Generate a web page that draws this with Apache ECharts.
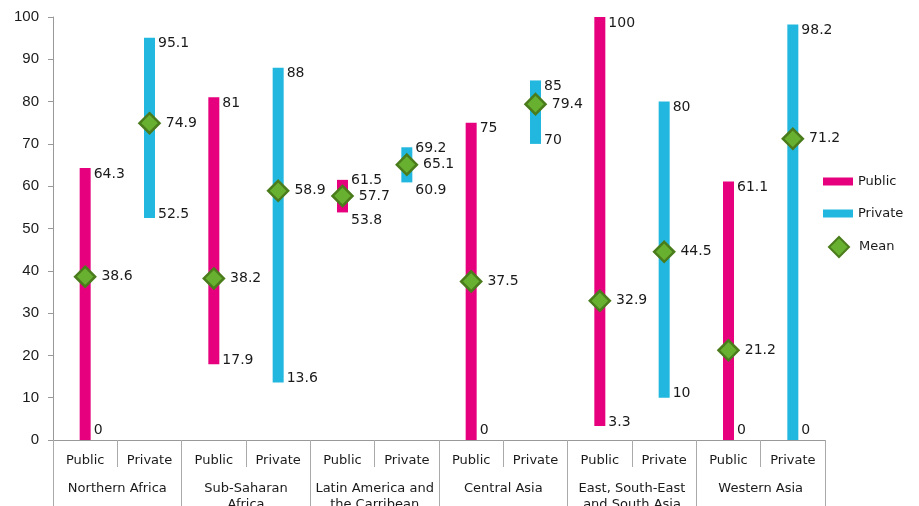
<!DOCTYPE html>
<html>
<head>
<meta charset="utf-8">
<script src="https://cdn.jsdelivr.net/npm/echarts@6/dist/echarts.min.js"></script>
<style>
  html, body { margin: 0; padding: 0; background: #fff; overflow: hidden; }
  #chart { width: 919px; height: 506px; }
</style>
</head>
<body>
<div id="chart"></div>
<script>
// data
var regions = ['Northern Africa', 'Sub-Saharan\nAfrica', 'Latin America and\nthe Carribean', 'Central Asia', 'East, South-East\nand South Asia', 'Western Asia'];
var sectors = ['Public', 'Private'];
var publicMin = [0, 17.9, 53.8, 0, 3.3, 0];
var publicMax = [64.3, 81, 61.5, 75, 100, 61.1];
var publicMean = [38.6, 38.2, 57.7, 37.5, 32.9, 21.2];
var privateMin = [52.5, 13.6, 60.9, 70, 10, 0];
var privateMax = [95.1, 88, 69.2, 85, 80, 98.2];
var privateMean = [74.9, 58.9, 65.1, 79.4, 44.5, 71.2];
var yTicks = [0, 10, 20, 30, 40, 50, 60, 70, 80, 90, 100];

var font = 'DejaVu Sans';
var textColor = '#1a1a1a';

// sub categories: Public, Private for each region
var subCats = [];
regions.forEach(function () { subCats.push(sectors[0], sectors[1]); });

var pubData = publicMin.map(function (v, i) { return [i * 2, v, publicMax[i]]; });
var privData = privateMin.map(function (v, i) { return [i * 2 + 1, v, privateMax[i]]; });
var meanData = [];
regions.forEach(function (r, i) {
    meanData.push([i * 2, publicMean[i]]);
    meanData.push([i * 2 + 1, privateMean[i]]);
});

function rangeBar(color) {
    return function (params, api) {
        var x = api.value(0);
        var lo = api.value(1), hi = api.value(2);
        var top = api.coord([x, hi]);
        var bot = api.coord([x, lo]);
        var w = 11;
        var short = (hi - lo) < 12;
        var topY = short ? top[1] + 1 : top[1] + 6;
        var lowY = lo === 0 ? bot[1] - 10 : (short ? bot[1] + 8 : bot[1] - 4);
        return {
            type: 'group',
            children: [
                { type: 'rect', shape: { x: top[0] - w / 2, y: top[1], width: w, height: bot[1] - top[1] },
                  style: { fill: color } },
                { type: 'text', x: top[0] + w / 2 + 3, y: topY,
                  style: { text: String(hi), fill: textColor, font: '14px ' + font, verticalAlign: 'middle' } },
                { type: 'text', x: bot[0] + w / 2 + 3, y: lowY,
                  style: { text: String(lo), fill: textColor, font: '14px ' + font, verticalAlign: 'middle' } }
            ]
        };
    };
}

var myChart = echarts.init(document.getElementById('chart'));

var option = {
    animation: false,
    backgroundColor: '#fff',
    textStyle: { fontFamily: font },
    grid: { left: 53, right: 94, top: 17, bottom: 66, containLabel: false, outerBoundsMode: 'none' },
    legend: [
        {
            orient: 'vertical', left: 823, top: 175, padding: 0, itemWidth: 30, itemHeight: 8, itemGap: 19,
            textStyle: { fontFamily: font, fontSize: 13, color: textColor },
            data: [{ name: 'Public', icon: 'rect' }, { name: 'Private', icon: 'rect' }]
        },
        {
            orient: 'vertical', left: 828, top: 236, padding: 0, itemWidth: 20, itemHeight: 20,
            textStyle: { fontFamily: font, fontSize: 13, color: textColor, padding: [0, 0, 0, 5] },
            data: [{ name: 'Mean', icon: 'diamond' }]
        }
    ],
    xAxis: [
        {
            type: 'category', data: subCats, position: 'bottom',
            axisLine: { show: true, lineStyle: { color: '#999' } },
            axisTick: { show: true, length: 27, interval: 0, lineStyle: { color: '#aaa' } },
            axisLabel: { margin: 14, fontFamily: font, fontSize: 13, color: textColor, interval: 0 }
        },
        {
            type: 'category', data: regions, position: 'bottom',
            axisLine: { show: false },
            axisTick: { show: true, length: 70, interval: 0, lineStyle: { color: '#aaa' } },
            axisLabel: { margin: 41, fontFamily: font, fontSize: 13, color: textColor, interval: 0, lineHeight: 16 }
        }
    ],
    yAxis: {
        type: 'value', min: 0, max: 100, interval: 10,
        axisLine: { show: true, lineStyle: { color: '#999' } },
        axisTick: { show: true, length: 5, lineStyle: { color: '#999' } },
        splitLine: { show: false },
        axisLabel: {
            margin: 14, fontFamily: 'Liberation Sans', fontSize: 15, color: textColor,
            formatter: function (v) { return yTicks.indexOf(v) >= 0 ? String(v) : ''; }
        }
    },
    series: [
        {
            name: 'Public', type: 'custom', xAxisIndex: 0, renderItem: rangeBar('#E6007E'),
            itemStyle: { color: '#E6007E' }, encode: { x: 0, y: [1, 2] }, data: pubData, z: 2
        },
        {
            name: 'Private', type: 'custom', xAxisIndex: 0, renderItem: rangeBar('#22B7DE'),
            itemStyle: { color: '#22B7DE' }, encode: { x: 0, y: [1, 2] }, data: privData, z: 2
        },
        {
            name: 'Mean', type: 'scatter', xAxisIndex: 0, symbol: 'diamond', symbolSize: [20, 20],
            itemStyle: { color: '#68B030', borderColor: '#4A7C1C', borderWidth: 2.5, opacity: 1 },
            label: { show: true, position: 'right', distance: 5, fontFamily: font, fontSize: 14, color: textColor,
                     textBorderWidth: 0, formatter: function (p) { return p.value[1]; } },
            emphasis: { disabled: true },
            data: meanData, z: 5
        }
    ]
};

myChart.setOption(option);
</script>
</body>
</html>
